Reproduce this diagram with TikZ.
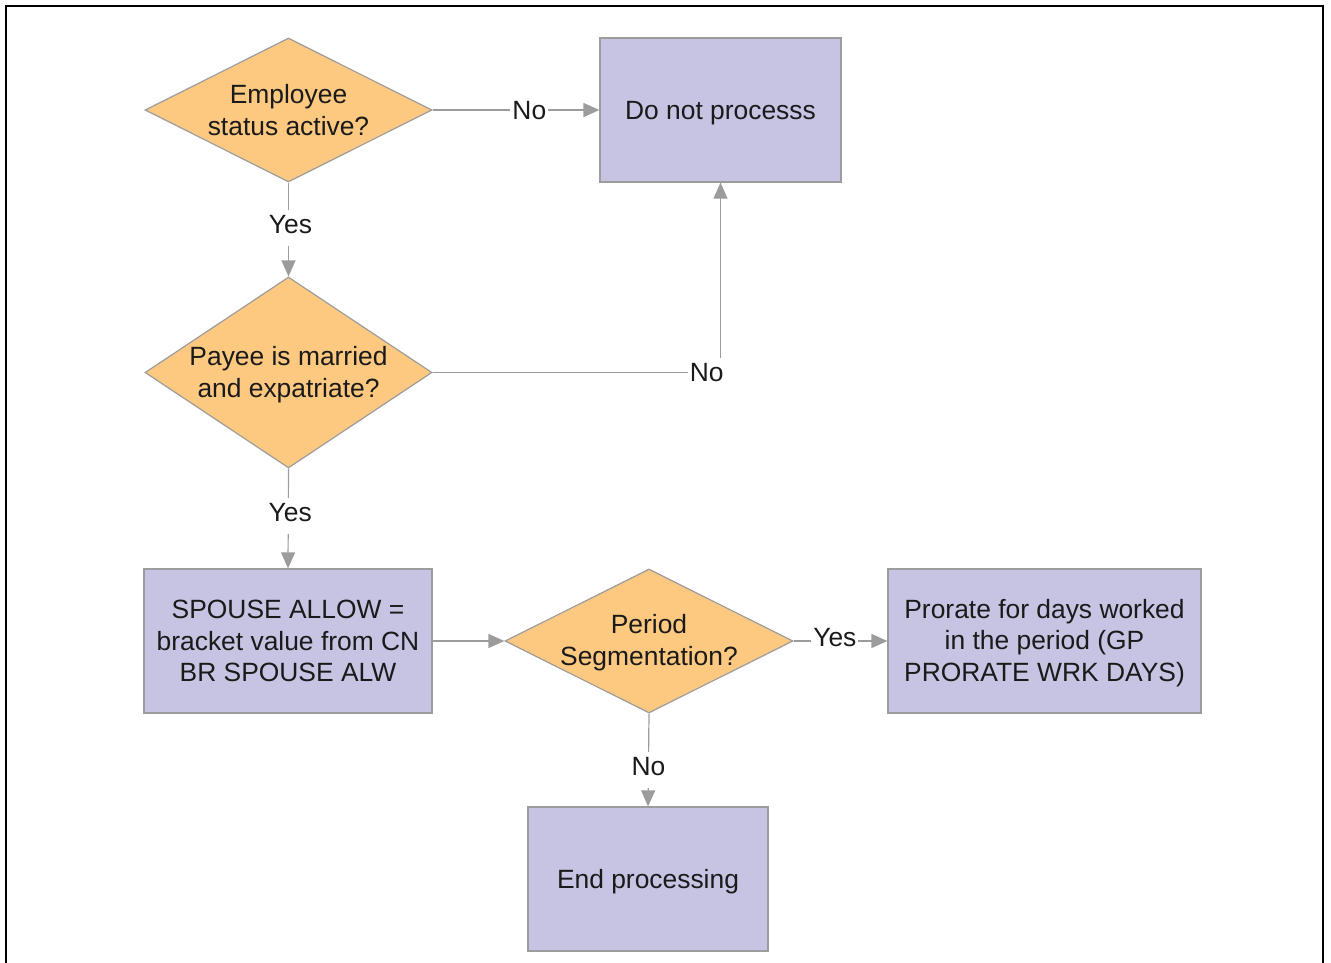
\documentclass[tikz,border=0pt]{standalone}
\usepackage{fontspec}
\setmainfont{Liberation Sans}
\usetikzlibrary{shapes.geometric,arrows.meta}
\definecolor{decfill}{HTML}{FDC981}
\definecolor{boxfill}{HTML}{C6C4E2}
\definecolor{edgegray}{HTML}{9C9C9C}
\definecolor{ink}{HTML}{1A1A1A}
\begin{document}
\begin{tikzpicture}[x=1pt,y=-1pt,
  every node/.style={font=\fontsize{26.4}{31.7}\selectfont, text=ink},
  decision/.style={diamond, draw=edgegray, line width=1.2pt, fill=decfill, inner sep=0pt},
  procbox/.style={rectangle, draw=edgegray, line width=1.2pt, fill=boxfill, inner sep=0pt},
  caption/.style={align=center, inner sep=0pt},
  flow/.style={draw=edgegray, line width=1.2pt, -{Triangle[length=16pt,width=14pt]}},
  tag/.style={fill=white, inner xsep=2pt, inner ysep=6pt, text height=18pt, text depth=6pt}
]
\useasboundingbox (0,0) rectangle (1331,962);
% frame, open at the bottom
\draw[line width=2pt, line cap=rect] (6,962) -- (6,6) -- (1323,6) -- (1323,962);

% decisions
\node[decision, minimum width=287pt, minimum height=144pt] (d1) at (288.5,110) {};
\node[caption] (d1t) at (d1) {Employee\\status active?};
\node[decision, minimum width=287pt, minimum height=191pt] (d2) at (288.5,372.5) {};
\node[caption, yshift=-2pt] (d2t) at (d2) {Payee is married\\and expatriate?};
\node[decision, minimum width=288pt, minimum height=144pt] (d3) at (649,641) {};
\node[caption, yshift=-2pt] (d3t) at (d3) {Period\\Segmentation?};

% process boxes
\node[procbox, minimum width=241pt, minimum height=144pt] (skip) at (720.5,110) {};
\node[caption, yshift=-3pt] (skipt) at (skip) {Do not processs};
\node[procbox, minimum width=288pt, minimum height=144pt] (spouse) at (288,641) {};
\node[caption] (spouset) at (spouse) {SPOUSE ALLOW =\\bracket value from CN\\BR SPOUSE ALW};
\node[procbox, minimum width=313pt, minimum height=144pt] (prorate) at (1044.5,641) {};
\node[caption, yshift=-2pt] (proratet) at (prorate) {Prorate for days worked\\in the period (GP\\PRORATE WRK DAYS)};
\node[procbox, minimum width=240pt, minimum height=144pt] (endp) at (648,879) {};
\node[caption, yshift=-3pt] (endpt) at (endp) {End processing};

% connectors
\draw[flow] (d1.east) -- node[tag, pos=0.58, yshift=-3pt] (l1) {No} (skip.west);
\draw[flow] (d1.south) -- node[tag, pos=0.44, yshift=-4pt, xshift=2pt] (l2) {Yes} (d2.north);
\draw[flow] (d2.east) -| node[tag, pos=0.476, yshift=-3pt] (l3) {No} (skip.south);
\draw[flow] (d2.south) -- node[tag, pos=0.44, yshift=-3pt, xshift=2pt] (l4) {Yes} (spouse.north);
\draw[flow] (spouse.east) -- (d3.west);
\draw[flow] (d3.east) -- node[tag, pos=0.44, yshift=1pt] (l5) {Yes} (prorate.west);
\draw[flow] (d3.south) -- node[tag, pos=0.56, yshift=-4pt] (l6) {No} (endp.north);
\end{tikzpicture}
\end{document}
